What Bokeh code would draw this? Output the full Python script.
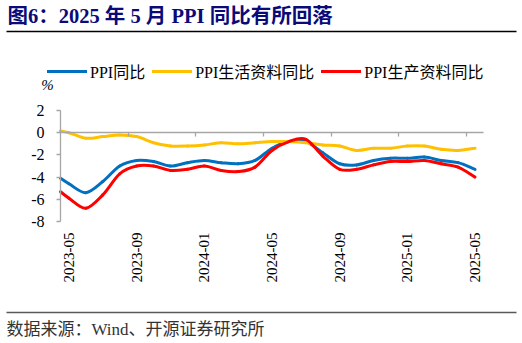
import numpy as np
from bokeh.plotting import figure
from bokeh.models import (Range1d, FixedTicker, Label, BoxAnnotation, Legend, LegendItem,
                          LinearAxis, CustomJSTickFormatter, ColumnDataSource)
from bokeh.embed import file_html
from bokeh.resources import INLINE

# ---------------- data ----------------
months = ["2023-04", "2023-05", "2023-06", "2023-07", "2023-08", "2023-09", "2023-10",
          "2023-11", "2023-12", "2024-01", "2024-02", "2024-03", "2024-04", "2024-05",
          "2024-06", "2024-07", "2024-08", "2024-09", "2024-10", "2024-11", "2024-12",
          "2025-01", "2025-02", "2025-03", "2025-04", "2025-05"]
ppi_yoy = [-3.6, -4.6, -5.4, -4.4, -3.0, -2.5, -2.6, -3.0, -2.7, -2.5, -2.7, -2.8, -2.5,
           -1.4, -0.8, -0.8, -1.8, -2.8, -2.9, -2.5, -2.3, -2.3, -2.2, -2.5, -2.7, -3.3]
ppi_consumer = [0.3, 0.0, -0.5, -0.35, -0.2, -0.35, -0.9, -1.2, -1.2, -1.1, -0.9, -1.0, -0.9,
                -0.8, -0.8, -0.9, -1.1, -1.2, -1.6, -1.4, -1.4, -1.2, -1.2, -1.5, -1.6, -1.4]
ppi_producer = [-4.7, -5.9, -6.8, -5.6, -3.7, -3.0, -3.0, -3.4, -3.3, -3.0, -3.4, -3.5, -3.1,
                -1.6, -0.8, -0.6, -2.1, -3.3, -3.3, -2.9, -2.6, -2.6, -2.5, -2.8, -3.1, -4.0]
series_names = ["PPI同比", "PPI生活资料同比", "PPI生产资料同比"]
x_tick_labels = ["2023-05", "2023-09", "2024-01", "2024-05", "2024-09", "2025-01", "2025-05"]
y_ticks = [-8, -6, -4, -2, 0, 2]

title_text = "图6：2025 年 5 月 PPI 同比有所回落"
source_text = "数据来源：Wind、开源证券研究所"
unit_text = "%"

colors = ["#0070C0", "#FFC000", "#FF0000"]
SERIF = "Liberation Serif, Noto Sans CJK SC"

# ---------------- layout (pixels) ----------------
W, H = 522, 343
PLOT_L, PLOT_R, PLOT_T, PLOT_B = 60, 483, 110, 221

x_lo, x_hi = 0.5, len(months) - 0.5
y_lo, y_hi = min(y_ticks), max(y_ticks)
ppx = (PLOT_R - PLOT_L) / (x_hi - x_lo)
ppy = (PLOT_B - PLOT_T) / (y_hi - y_lo)
xr = Range1d(x_lo - PLOT_L / ppx, x_hi + (W - PLOT_R) / ppx)
yr = Range1d(y_lo - (H - PLOT_B) / ppy, y_hi + PLOT_T / ppy)

p = figure(width=W, height=H, output_backend="svg", toolbar_location=None,
           x_range=xr, y_range=yr, x_axis_location=None, y_axis_location=None,
           min_border=0, min_border_left=0, min_border_right=0,
           min_border_top=0, min_border_bottom=0)
p.grid.visible = False
p.outline_line_color = None
p.background_fill_color = "white"
p.border_fill_color = "white"

AX_GRAY = "#A6A6A6"

# y axis
yax = LinearAxis(fixed_location=x_lo, bounds=(y_lo, y_hi), ticker=FixedTicker(ticks=y_ticks))
yax.major_label_overrides = {t: str(t) for t in y_ticks}
yax.axis_line_color = AX_GRAY
yax.axis_line_width = 1.3
yax.major_tick_line_color = AX_GRAY
yax.major_tick_line_width = 1.3
yax.major_tick_out = 4
yax.major_tick_in = 0
yax.minor_tick_line_color = None
yax.major_label_standoff = 12
yax.major_label_text_font = SERIF
yax.major_label_text_font_size = "16px"
yax.major_label_text_color = "#000000"
p.add_layout(yax, "left")

# zero line axis with tick marks at category boundaries
tick_pos = [months.index(t) for t in x_tick_labels]
zax = LinearAxis(fixed_location=0, bounds=(x_lo, x_hi),
                 ticker=FixedTicker(ticks=[t - 0.5 for t in tick_pos[1:]]),
                 formatter=CustomJSTickFormatter(code="return ''"))
zax.axis_line_color = AX_GRAY
zax.axis_line_width = 1.5
zax.major_tick_line_color = AX_GRAY
zax.major_tick_line_width = 1.3
zax.major_tick_out = 4
zax.major_tick_in = 0
zax.minor_tick_line_color = None
p.add_layout(zax, "below")

# x axis labels (at bottom of plot area)
xax = LinearAxis(fixed_location=y_lo, bounds=(x_lo, x_hi), ticker=FixedTicker(ticks=tick_pos))
xax.major_label_overrides = {i: lab for i, lab in zip(tick_pos, x_tick_labels)}
xax.axis_line_color = None
xax.major_tick_line_color = None
xax.minor_tick_line_color = None
xax.major_tick_out = 0
xax.major_tick_in = 0
xax.major_label_orientation = np.pi / 2
xax.major_label_standoff = 11
xax.major_label_text_font = SERIF
xax.major_label_text_font_size = "15px"
xax.major_label_text_color = "#000000"
p.add_layout(xax, "below")

# smoothed lines (cubic Bezier through each data point), clipped at the plot's left edge
def bezier_source(xs, ys, x_clip):
    xs = np.asarray(xs, float); ys = np.asarray(ys, float)
    xp = np.concatenate([[2 * xs[0] - xs[1]], xs, [2 * xs[-1] - xs[-2]]])
    yp = np.concatenate([[2 * ys[0] - ys[1]], ys, [2 * ys[-1] - ys[-2]]])
    n = len(xs)
    x0, y0 = xs[:-1].copy(), ys[:-1].copy()
    x1, y1 = xs[1:].copy(), ys[1:].copy()
    cx0 = x0 + (xp[2:n + 1] - xp[0:n - 1]) / 6.0
    cy0 = y0 + (yp[2:n + 1] - yp[0:n - 1]) / 6.0
    cx1 = x1 - (xp[3:n + 2] - xp[1:n]) / 6.0
    cy1 = y1 - (yp[3:n + 2] - yp[1:n]) / 6.0
    # split segments that cross the left edge (de Casteljau) and drop what lies outside
    keep = x1 > x_clip
    for i in np.where((x0 < x_clip) & keep)[0]:
        P = np.array([[x0[i], y0[i]], [cx0[i], cy0[i]], [cx1[i], cy1[i]], [x1[i], y1[i]]])
        lo, hi = 0.0, 1.0
        for _ in range(60):
            t = (lo + hi) / 2
            bx = ((1 - t) ** 3 * P[0, 0] + 3 * (1 - t) ** 2 * t * P[1, 0]
                  + 3 * (1 - t) * t ** 2 * P[2, 0] + t ** 3 * P[3, 0])
            if bx < x_clip:
                lo = t
            else:
                hi = t
        t = (lo + hi) / 2
        m01 = P[0] + t * (P[1] - P[0]); m12 = P[1] + t * (P[2] - P[1]); m23 = P[2] + t * (P[3] - P[2])
        m012 = m01 + t * (m12 - m01); m123 = m12 + t * (m23 - m12)
        q = m012 + t * (m123 - m012)
        x0[i], y0[i] = q; cx0[i], cy0[i] = m123; cx1[i], cy1[i] = m23
    return ColumnDataSource(dict(x0=x0[keep], y0=y0[keep], x1=x1[keep], y1=y1[keep],
                                 cx0=cx0[keep], cy0=cy0[keep], cx1=cx1[keep], cy1=cy1[keep]))

x_idx = np.arange(len(months), dtype=float)
items = []
for name, vals, col in zip(series_names, [ppi_yoy, ppi_consumer, ppi_producer], colors):
    r = p.bezier(x0="x0", y0="y0", x1="x1", y1="y1", cx0="cx0", cy0="cy0", cx1="cx1", cy1="cy1",
                 source=bezier_source(x_idx, vals, x_lo), line_color=col, line_width=3,
                 line_cap="round")
    items.append(LegendItem(label=name, renderers=[r]))

legend = Legend(items=items, orientation="horizontal", location=(47, H - 83),
                glyph_width=40, glyph_height=20, label_height=20, label_standoff=3, spacing=7,
                padding=0, margin=0, border_line_color=None, background_fill_alpha=0,
                label_text_font=SERIF, label_text_font_size="16px", label_text_color="#000000")
p.add_layout(legend, "center")

# texts & rules (screen units: x from left, y from bottom of the canvas)
p.add_layout(Label(x=7, y=H - 15.5, x_units="screen", y_units="screen", text=title_text,
                   text_font=SERIF, text_font_size="20.5px", text_font_style="bold",
                   text_color="#0A0A78", text_baseline="middle", text_align="left"))
p.add_layout(BoxAnnotation(left=6, right=516, top=H - 30.3, bottom=H - 31.8,
                           left_units="screen", right_units="screen",
                           top_units="screen", bottom_units="screen",
                           fill_color="#000000", fill_alpha=1, line_color=None))
p.add_layout(BoxAnnotation(left=6, right=516, top=H - 311.3, bottom=H - 312.8,
                           left_units="screen", right_units="screen",
                           top_units="screen", bottom_units="screen",
                           fill_color="#595959", fill_alpha=1, line_color=None))
p.add_layout(Label(x=6, y=H - 328.5, x_units="screen", y_units="screen", text=source_text,
                   text_font=SERIF, text_font_size="17px", text_color="#333333",
                   text_baseline="middle", text_align="left"))
p.add_layout(Label(x=47, y=H - 84, x_units="screen", y_units="screen", text=unit_text,
                   text_font=SERIF, text_font_size="15px", text_font_style="italic",
                   text_color="#000000", text_baseline="middle", text_align="center"))

open("out.html", "w").write(file_html(p, INLINE))
